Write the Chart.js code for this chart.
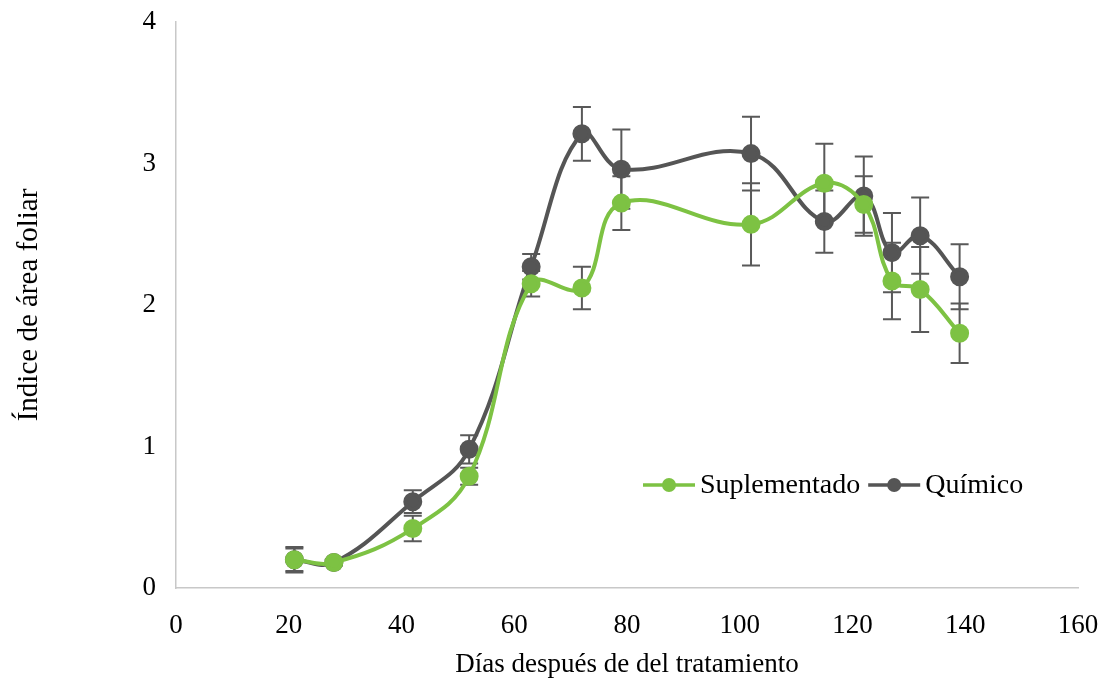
<!DOCTYPE html>
<html>
<head>
<meta charset="utf-8">
<script src="https://cdn.jsdelivr.net/npm/chart.js@4.4.1/dist/chart.umd.min.js"></script>
<style>
  body { margin: 0; background: #fff; }
  canvas { display: block; }
</style>
</head>
<body>
<canvas id="chart" width="1111" height="681"></canvas>
<script>
// Índice de área foliar vs días después del tratamiento
const days = [21, 28, 42, 52, 63, 72, 79, 102, 115, 122, 127, 132, 139];
const suplementado = [0.20, 0.18, 0.42, 0.79, 2.15, 2.12, 2.72, 2.57, 2.86, 2.71, 2.17, 2.11, 1.80];
const suplementadoErr = [0.08, 0.02, 0.09, 0.06, 0.09, 0.15, 0.19, 0.29, 0.28, 0.20, 0.27, 0.30, 0.21];
const quimico = [0.20, 0.18, 0.61, 0.98, 2.27, 3.21, 2.96, 3.07, 2.59, 2.77, 2.37, 2.49, 2.20];
const quimicoErr = [0.09, 0.02, 0.08, 0.10, 0.09, 0.19, 0.28, 0.26, 0.22, 0.28, 0.28, 0.27, 0.23];
const xTicks = [0, 20, 40, 60, 80, 100, 120, 140, 160];
const yTicks = [0, 1, 2, 3, 4];

const green = '#7dc243';
const dark = '#555555';
const errColor = '#595959';
const fontFamily = '"Liberation Serif", "Times New Roman", serif';

function toPoints(ys) {
    return days.map((d, i) => ({ x: d, y: ys[i] }));
}

// error bars drawn under the markers
const errorBars = {
    id: 'errorBars',
    beforeDatasetsDraw(chart) {
        const ctx = chart.ctx;
        const xs = chart.scales.x, ys = chart.scales.y;
        const sets = [[suplementado, suplementadoErr], [quimico, quimicoErr]];
        ctx.save();
        ctx.strokeStyle = errColor;
        ctx.lineWidth = 2;
        sets.forEach(([vals, errs]) => {
            vals.forEach((v, i) => {
                const px = xs.getPixelForValue(days[i]);
                const top = ys.getPixelForValue(v + errs[i]);
                const bot = ys.getPixelForValue(v - errs[i]);
                ctx.beginPath();
                ctx.moveTo(px, top); ctx.lineTo(px, bot);
                ctx.moveTo(px - 9, top); ctx.lineTo(px + 9, top);
                ctx.moveTo(px - 9, bot); ctx.lineTo(px + 9, bot);
                ctx.stroke();
            });
        });
        ctx.restore();
    }
};

// Excel-style legend: line with marker, placed inside the plot
const lineLegend = {
    id: 'lineLegend',
    afterDraw(chart) {
        const ctx = chart.ctx;
        const y = 485;
        let x = 643;
        ctx.save();
        ctx.font = '28px ' + fontFamily;
        ctx.textBaseline = 'middle';
        chart.data.datasets.forEach(ds => {
            ctx.strokeStyle = ds.borderColor;
            ctx.lineWidth = 3.5;
            ctx.beginPath();
            ctx.moveTo(x, y); ctx.lineTo(x + 52, y);
            ctx.stroke();
            ctx.fillStyle = ds.borderColor;
            ctx.beginPath();
            ctx.arc(x + 26, y, 7, 0, Math.PI * 2);
            ctx.fill();
            ctx.fillStyle = '#000';
            ctx.fillText(ds.label, x + 57, y + 1);
            x += 57 + ctx.measureText(ds.label).width + 8;
        });
        ctx.restore();
    }
};

const ctx = document.getElementById('chart').getContext('2d');
new Chart(ctx, {
    type: 'line',
    data: {
        datasets: [
            {
                label: 'Suplementado',
                data: toPoints(suplementado),
                borderColor: green,
                backgroundColor: green,
                borderWidth: 4,
                pointRadius: 7.5,
                pointHoverRadius: 7.5,
                tension: 0.4
            },
            {
                label: 'Químico',
                data: toPoints(quimico),
                borderColor: dark,
                backgroundColor: dark,
                borderWidth: 4,
                pointRadius: 7.5,
                pointHoverRadius: 7.5,
                tension: 0.4
            }
        ]
    },
    options: {
        responsive: false,
        animation: false,
        layout: { padding: { top: 0, right: 33, left: 12, bottom: 0 } },
        plugins: {
            legend: { display: false },
            tooltip: { enabled: false }
        },
        scales: {
            x: {
                type: 'linear',
                min: xTicks[0],
                max: xTicks[xTicks.length - 1],
                afterBuildTicks: s => { s.ticks = xTicks.map(v => ({ value: v })); },
                afterFit: s => { s.height = 93; s.paddingRight = 0; },
                grid: { display: false },
                border: { color: '#c8c8c8', width: 1.5 },
                ticks: { color: '#000', font: { family: fontFamily, size: 27 }, padding: 14 },
                title: {
                    display: true,
                    text: 'Días después de del tratamiento',
                    color: '#000',
                    font: { family: fontFamily, size: 27 },
                    padding: { top: 4, bottom: 0 }
                }
            },
            y: {
                min: yTicks[0],
                max: yTicks[yTicks.length - 1],
                afterBuildTicks: s => { s.ticks = yTicks.map(v => ({ value: v })); },
                afterFit: s => { s.width = 164; s.paddingTop = 22; s.paddingBottom = 0; },
                grid: { display: false },
                border: { color: '#c8c8c8', width: 1.5 },
                ticks: { color: '#000', font: { family: fontFamily, size: 27 }, padding: 12 },
                title: {
                    display: true,
                    text: 'Índice de área foliar',
                    color: '#000',
                    font: { family: fontFamily, size: 29 },
                    padding: { top: 0, bottom: 0 }
                }
            }
        }
    },
    plugins: [errorBars, lineLegend]
});
</script>
</body>
</html>
